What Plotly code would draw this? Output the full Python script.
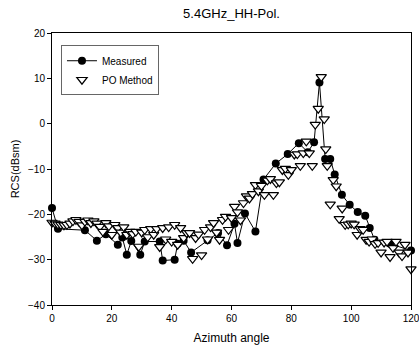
import plotly.graph_objects as go

meas_x = [0, 2, 11, 15, 18, 22, 23.5, 25, 26.5, 29.5, 31, 36, 37, 41, 42, 44, 46.5, 52, 55.5,
          58.5, 61, 62, 64.5, 68, 70.7, 74.8, 78.8, 82.5, 85.5, 87.6, 89.4, 91.3, 93, 94.5,
          96.9, 99.5, 102.2, 104.7, 106.2, 107.8, 113, 120]
meas_y = [-18.6, -23.2, -23.5, -25.8, -24.4, -26.7, -25.1, -28.9, -25.9, -28.9, -26, -26, -30.2,
          -30, -26.5, -25.8, -28.4, -25.7, -24.1, -26.8, -22.1, -26.3, -19.8, -23.8, -12.3, -8.8,
          -6.7, -4.3, -6.3, -4.1, 9.1, -7.8, -7.8, -11.2, -15.7, -17.9, -19.5, -20.3, -23, -25.6,
          -26.5, -28]

po_x = list(range(0, 92)) + [91.5, 92, 93, 94, 95, 96, 97, 98, 99, 100, 101, 102, 103, 104, 105,
                             106, 107, 108, 109, 110, 111, 112, 113, 114, 115, 116, 117, 118, 119, 120]
po_y = [-21.8, -22.0, -22.2, -22.3, -22.4, -22.3, -22.0, -21.5, -21.2, -21.6,
        -22.4, -21.6, -21.3, -21.9, -21.5, -22.0, -22.7, -23.8, -21.9, -22.6,
        -24.5, -22.3, -23.0, -24.0, -22.8, -24.5, -23.8, -24.3, -23.8, -27.1,
        -24.0, -23.4, -25.0, -23.2, -24.5, -23.2, -27.2, -23.0, -25.5, -22.8,
        -26.0, -22.3, -26.7, -23.0, -25.2, -24.1, -24.1, -29.8, -25.2, -24.4,
        -29.0, -23.4, -25.5, -22.8, -21.9, -24.0, -25.6, -21.2, -20.5, -23.4,
        -20.8, -18.3, -19.5, -21.3, -17.5, -16.0, -16.5, -15.5, -13.5, -14.9,
        -13.7, -15.7, -12.5, -12.2, -15.7, -13.1, -12.9, -10.2, -9.9, -11.3,
        -10.2, -6.8, -6.7, -9.3, -6.5, -3.9, -6.5, -9.3, -0.2, 3.3,
        10.3, 1.0,
        -5.6, -9.3, -17.8, -12.4, -13.8, -21.0, -18.7, -22.3, -22.2, -22.0,
        -22.2, -24.5, -23.2, -23.4, -25.6, -26.0, -25.5, -26.5, -26.3, -28.4,
        -26.2, -26.0, -29.4, -27.4, -26.0, -28.4, -29.2, -26.7, -28.4, -32.1]

x_ticks = [0, 20, 40, 60, 80, 100, 120]
y_ticks = [-40, -30, -20, -10, 0, 10, 20]

fig = go.Figure()
fig.add_trace(go.Scatter(
    x=meas_x, y=meas_y, mode="lines+markers", name="Measured",
    line=dict(color="black", width=1),
    marker=dict(symbol="circle", size=8, color="black"),
    cliponaxis=False,
))
fig.add_trace(go.Scatter(
    x=po_x, y=po_y, mode="markers", name="PO Method",
    marker=dict(symbol="triangle-down", size=9, color="white",
                line=dict(color="black", width=1.2)),
    cliponaxis=False,
))

axis_common = dict(showline=True, linecolor="black", linewidth=1, mirror=True,
                   ticks="outside", ticklen=4, tickcolor="black", showgrid=False,
                   zeroline=False, automargin=False,
                   tickfont=dict(family="Liberation Sans, Arial", size=10, color="black"))

fig.update_layout(
    width=419, height=351,
    margin=dict(l=52, r=8, t=33, b=46),
    paper_bgcolor="white", plot_bgcolor="white",
    font=dict(family="Liberation Sans, Arial", color="black"),
    title=dict(text="5.4GHz_HH-Pol.", x=0.5, xref="paper", y=0.962, yref="container",
               xanchor="center", yanchor="middle",
               font=dict(size=13, family="Liberation Sans, Arial", color="black")),
    xaxis=dict(range=[0, 120], tickvals=x_ticks, ticklabeloverflow="allow",
               title=dict(text="Azimuth angle", font=dict(size=12), standoff=10),
               **axis_common),
    yaxis=dict(range=[-40, 20], tickvals=y_ticks,
               title=dict(text="RCS(dBsm)", font=dict(size=11), standoff=6),
               **axis_common),
    legend=dict(x=0.025, y=0.955, xanchor="left", yanchor="top",
                bgcolor="white", bordercolor="#666666", borderwidth=1,
                font=dict(size=10, family="Liberation Sans, Arial", color="black"),
                itemwidth=30, tracegroupgap=0),
    showlegend=True,
)

fig.write_html("out.html")
